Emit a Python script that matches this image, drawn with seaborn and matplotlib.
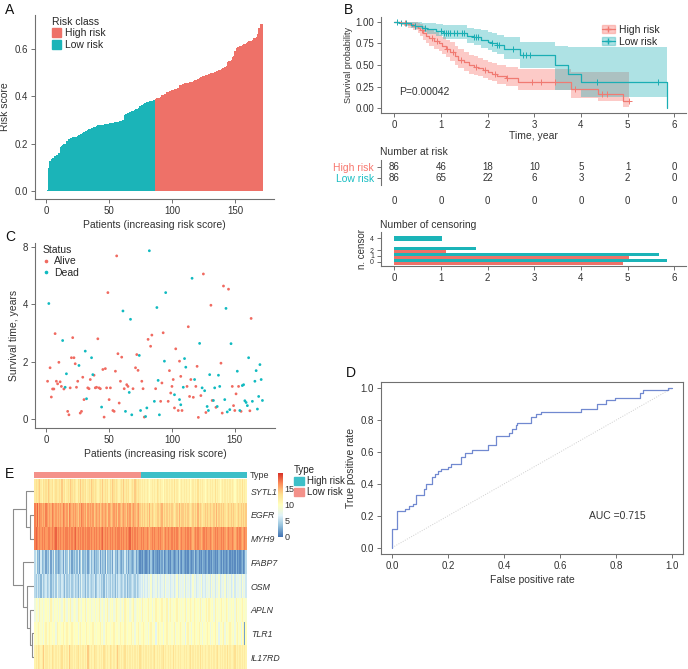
import numpy as np
import pandas as pd
import matplotlib
matplotlib.use("Agg")
import matplotlib.pyplot as plt
import seaborn as sns
from matplotlib.colors import LinearSegmentedColormap, ListedColormap
from matplotlib.patches import Patch
from matplotlib.lines import Line2D

# ── Panel A : risk score per patient (sorted) ─────────────────
risk_low = [0.005, 0.097, 0.125, 0.137, 0.138, 0.14, 0.147, 0.15, 0.154, 0.16,
            0.186, 0.19, 0.196, 0.197, 0.2, 0.21, 0.212, 0.221, 0.222, 0.224,
            0.227, 0.228, 0.229, 0.23, 0.232, 0.238, 0.24, 0.242, 0.245, 0.248,
            0.252, 0.255, 0.258, 0.26, 0.263, 0.265, 0.268, 0.27, 0.272, 0.274,
            0.277, 0.278, 0.279, 0.28, 0.281, 0.282, 0.283, 0.284, 0.285, 0.286,
            0.287, 0.288, 0.289, 0.29, 0.291, 0.292, 0.293, 0.294, 0.295, 0.297,
            0.3, 0.323, 0.325, 0.327, 0.33, 0.332, 0.334, 0.336, 0.34, 0.344,
            0.346, 0.348, 0.352, 0.358, 0.36, 0.364, 0.368, 0.37, 0.372, 0.375,
            0.377, 0.379, 0.38, 0.382, 0.384, 0.386]
risk_high = [0.39, 0.392, 0.393, 0.394, 0.396, 0.405, 0.407, 0.408, 0.41, 0.418,
             0.42, 0.421, 0.422, 0.426, 0.428, 0.43, 0.432, 0.434, 0.436, 0.448,
             0.45, 0.452, 0.454, 0.455, 0.456, 0.457, 0.458, 0.459, 0.46, 0.462,
             0.465, 0.468, 0.471, 0.473, 0.475, 0.477, 0.48, 0.484, 0.486, 0.488,
             0.49, 0.492, 0.494, 0.496, 0.497, 0.499, 0.5, 0.504, 0.506, 0.508,
             0.51, 0.512, 0.516, 0.52, 0.522, 0.525, 0.53, 0.546, 0.548, 0.55,
             0.552, 0.566, 0.57, 0.59, 0.605, 0.607, 0.609, 0.611, 0.614, 0.618,
             0.62, 0.622, 0.625, 0.628, 0.632, 0.634, 0.636, 0.64, 0.646, 0.648,
             0.65, 0.665, 0.69, 0.704, 0.706, 0.706]

# ── Panel B : Kaplan-Meier steps + 95% CI ─────────────────────
hi_t = [0, 0.15, 0.3, 0.4, 0.5, 0.55, 0.62, 0.68, 0.75, 0.85, 0.95, 1.02, 1.1, 1.2, 1.3,
        1.37, 1.5, 1.6, 1.7, 1.8, 1.9, 2.0, 2.1, 2.2, 2.4, 2.65, 3.78, 4.37, 4.89, 5.03]
hi_s = [1.0, 0.985, 0.97, 0.95, 0.93, 0.9, 0.87, 0.84, 0.81, 0.78, 0.75, 0.72, 0.68, 0.65, 0.6,
        0.56, 0.53, 0.5, 0.48, 0.46, 0.44, 0.42, 0.40, 0.37, 0.35, 0.30, 0.22, 0.165, 0.088, 0.088]
hi_up = [1.0, 1.0, 1.0, 0.995, 0.99, 0.97, 0.95, 0.93, 0.9, 0.88, 0.85, 0.82, 0.79, 0.76, 0.72,
         0.68, 0.65, 0.62, 0.60, 0.58, 0.56, 0.54, 0.52, 0.50, 0.48, 0.45, 0.42, 0.42, 0.42, 0.42]
hi_lo = [1.0, 0.96, 0.93, 0.9, 0.87, 0.83, 0.79, 0.75, 0.72, 0.69, 0.66, 0.63, 0.59, 0.55, 0.5,
         0.46, 0.43, 0.40, 0.39, 0.37, 0.35, 0.33, 0.31, 0.28, 0.26, 0.21, 0.12, 0.08, 0.01, 0.01]
hi_cens = [0.22, 0.45, 0.6, 0.8, 0.92, 1.12, 1.25, 1.42, 1.75, 1.95, 2.15, 2.42,
           2.95, 3.15, 3.45, 3.88, 4.45, 4.55, 5.02]

lo_t = [0, 0.1, 0.2, 0.35, 0.45, 0.6, 0.7, 0.9, 1.05, 1.55, 1.7, 1.85, 2.0, 2.1, 2.2,
        2.35, 2.7, 3.45, 3.73, 3.99, 5.85]
lo_s = [1.0, 0.99, 0.98, 0.965, 0.95, 0.93, 0.915, 0.895, 0.875, 0.835, 0.82, 0.79, 0.77, 0.75, 0.73,
        0.68, 0.615, 0.50, 0.40, 0.305, 0.0]
lo_up = [1.0, 1.0, 1.0, 1.0, 1.0, 0.99, 0.98, 0.97, 0.96, 0.93, 0.92, 0.9, 0.88, 0.87, 0.85,
         0.82, 0.77, 0.72, 0.71, 0.71, 0.71]
lo_lo = [1.0, 0.97, 0.95, 0.93, 0.91, 0.88, 0.86, 0.83, 0.8, 0.75, 0.73, 0.7, 0.67, 0.65, 0.63,
         0.57, 0.46, 0.21, 0.21, 0.135, 0.135]
lo_cens = [0.05, 0.15, 0.25, 0.45, 0.65, 1.0, 1.06, 1.1, 1.15, 1.2, 1.28, 1.35, 1.45, 1.5,
           1.7, 1.75, 1.8, 2.1, 2.2, 2.25, 2.55, 2.75, 2.82, 2.9, 4.35, 5.65]

risk_times = [0, 1, 2, 3, 4, 5, 6]
at_risk_high = [86, 46, 18, 10, 5, 1, 0]
at_risk_low = [86, 65, 22, 6, 3, 2, 0]
zero_row = [0, 0, 0, 0, 0, 0, 0]

cens_n = [4, 2, 2, 1, 1, 0, 0]
cens_grp = ["Low risk", "Low risk", "High risk", "Low risk", "High risk", "Low risk", "High risk"]
cens_len = [1.02, 1.74, 1.11, 5.67, 5.03, 5.85, 4.89]

# ── Panel C : survival time / status ──────────────────────────
alive_x = [1, 3, 4, 5, 6, 7, 8, 9, 10, 11, 12, 14, 17, 18, 19, 20, 21, 22, 23, 24,
           25, 27, 28, 29, 30, 33, 34, 35, 38, 39, 40, 41, 42, 43, 45, 46, 47, 48, 49, 50,
           51, 53, 54, 55, 56, 57, 58, 59, 60, 62, 64, 65, 69, 71, 72, 73, 76, 77, 78, 81,
           83, 84, 87, 91, 92, 93, 97, 98, 99, 100, 101, 102, 103, 105, 106, 107, 108, 112, 113, 114,
           115, 117, 119, 120, 121, 123, 125, 127, 131, 132, 135, 139, 140, 141, 145, 148, 149, 150, 151, 153,
           155, 162, 163]
alive_t = [1.32, 1.79, 0.77, 1.05, 1.05, 2.98, 1.32, 1.23, 1.98, 1.30, 1.14, 1.05, 0.27, 0.15, 1.09, 2.14, 2.84, 2.14, 1.93, 1.11,
           1.32, 0.21, 0.27, 1.46, 0.68, 1.09, 1.06, 1.38, 1.53, 1.09, 1.11, 2.80, 1.09, 1.06, 1.73, 0.07, 1.76, 1.09, 4.41, 0.68,
           1.09, 0.30, 0.27, 1.67, 5.69, 2.28, 0.56, 1.32, 2.16, 1.06, 1.20, 1.14, 1.06, 1.79, 2.25, 1.70, 1.32, 1.06, 0.07, 2.78,
           2.54, 2.93, 1.06, 0.62, 1.26, 3.01, 0.62, 1.69, 0.91, 1.14, 1.38, 0.39, 2.45, 0.30, 2.02, 1.49, 0.30, 1.14, 3.22, 0.79,
           1.38, 0.76, 1.14, 1.84, 0.06, 0.82, 5.06, 0.23, 3.97, 0.65, 0.41, 1.95, 0.21, 4.64, 4.53, 1.14, 0.47, 0.30, 0.88, 1.14,
           0.27, 0.29, 3.51]
dead_x = [2, 13, 15, 16, 26, 31, 32, 36, 37, 44, 61, 63, 66, 67, 68, 74, 75, 79, 80, 82,
          86, 88, 89, 90, 94, 95, 102, 106, 107, 109, 110, 111, 116, 118, 122, 124, 126, 128, 129, 130,
          133, 134, 136, 137, 138, 142, 143, 144, 146, 147, 152, 154, 156, 157, 158, 159, 160, 161, 164, 166,
          167, 168, 169, 170, 171, 172]
dead_t = [4.03, 2.74, 1.11, 1.58, 1.87, 2.37, 0.71, 2.14, 1.55, 0.42, 3.77, 0.27, 0.93, 3.48, 0.15, 2.22, 0.30, 0.09, 0.39, 5.87,
          0.62, 3.89, 1.35, 0.15, 2.02, 4.41, 0.85, 0.68, 0.50, 1.11, 2.11, 1.81, 4.91, 1.38, 2.64, 1.09, 0.99, 0.44, 0.30, 1.55,
          0.65, 1.09, 0.44, 1.53, 1.14, 0.68, 3.86, 0.25, 0.33, 2.63, 1.67, 0.30, 1.17, 1.20, 0.64, 0.58, 0.47, 2.14, 0.62, 1.32,
          1.69, 0.35, 0.79, 1.90, 1.38, 0.65]
time_ticks = [0, 2, 4, 6]
time_tick_labels = ["0", "2", "4", "8"]

# ── Panel D : ROC curve corners ───────────────────────────────
fpr = [0, 0, 0.018, 0.047, 0.059, 0.075, 0.084, 0.114, 0.122, 0.144, 0.152, 0.164, 0.176,
       0.199, 0.211, 0.247, 0.259, 0.286, 0.344, 0.371, 0.419, 0.428, 0.442, 0.448, 0.496,
       0.514, 0.531, 0.674, 0.733, 0.763, 0.798, 0.887, 0.896, 0.988, 1.0]
tpr = [0, 0.12, 0.228, 0.245, 0.26, 0.273, 0.329, 0.371, 0.40, 0.444, 0.465, 0.48, 0.493,
       0.507, 0.522, 0.57, 0.595, 0.616, 0.644, 0.70, 0.717, 0.748, 0.769, 0.78, 0.822,
       0.839, 0.853, 0.868, 0.899, 0.927, 0.941, 0.969, 0.99, 1.0, 1.0]
auc_text = "AUC =0.715"

# ── Panel E : expression heatmap (one char per patient, 0-j = 0-19) ──
genes = ["SYTL1", "EGFR", "MYH9", "FABP7", "OSM", "APLN", "TLR1", "IL17RD"]
expr_rows = {
    "SYTL1": "cdcdecbdcd cedcdbcdcc dcecdbcdce dcdcbdcecd cdbcdcedcd cbcdcecdcd bdcedcdcbc dcecdcdbcd "
             "cedcdcbcbc bcbabcbcbd cbcbacbcbc bcbdbcbabc bcbcbcabcb cbdbcbcbab cbcbcbdbcb abcbcbcbcb "
             "cbabcbcbdb cb",
    "EGFR": "hgifhgfgfh gfgfhgfgfg fgfhgfgehg fgfgfegfhg fgegfgfgef gfgefgfgfe gfefgfgegf efgfegfgef "
            "gfefgedede dedfdedcde edefdedede dedcdedfde edededcded edfdedcded ededdedfde dededcdede "
            "dedcdedede de",
    "MYH9": "hihghghghg ghhghghigh ghghghhghg hghighghgh ghghhghghg hghghighgh ghghghghhg hghghghigh "
            "ghghgghghg ghgfghghgg hghgfghghg ghghghgfgh gghghghgfg hghggfghgh gghgfghghg ghghgfghgg "
            "hgfghghgfg hg",
    "FABP7": "5734263452 4362537342 3452634735 2435362473 4352463524 3462534273 4352634253 2436352432 "
             "3524312132 1231421321 2132412312 1321231421 3212132124 1231213212 3121321213 2131212312 "
             "1213121231 25",
    "OSM": "5464536456 4563546475 5465364546 4564536475 5364654563 4656453646 5464536465 4564635456 "
           "5464567686 7687967786 8767869778 6786796878 7968786797 8678796768 7869786879 6787968786 "
           "7968778697 86",
    "APLN": "8a98b9a89a 9a8b98a9a8 a98ab98a9b 89a98ba98a 9b8a9a89a8 a9b89a8a9b 8a9a89ba98 9a8ba9a89a "
            "b89a9a8b9a 9ab9a8a9ba a9ab9a9b8a b9a9ab9a9a 9ab8a9ba9b a9a9b8a9ab 9ba9a8b9a9 ab9a9ba89a "
            "9a8b9a9ab9 a9",
    "TLR1": "a9aba9a8ab 9aba9aa8ba a9ab9aba9a ba9aa8ab9a a9ba9aab9a 9aab9a8aba a9aab9aa9b aa9ba9aab9 "
            "a8aab9aaba 9a8ab9aa7a ba9a8aab9a a9ab8a9aba 9a7ab9a8ab a9ab9a8a9a ba8a9ab9a7 a9ab8a9aba "
            "9a8ab9a7ab 2a",
    "IL17RD": "bcbdcbcebc cbcbdcbcbc bcdbcbcbec cbcbcdbcbc bcbecbcbdc cbcbcbdcbc bdcbcbcecb cbcdbcbcbc "
              "bcbcbdcbcb cbcbcbcdbc bcbcdbcbcb cbdbcbcbcb bcbcbcdbcb cbcbdbcbcb bcbcbcbcdb cbcbcbdbcb "
              "bcdbcbcbcb cb",
}
sample_type = ["Low risk"] * 86 + ["High risk"] * 86
# row dendrogram merges: (node, node, height); ints refer to earlier merges
dendro_merges = [("EGFR", "MYH9", 4.0), ("TLR1", "IL17RD", 2.0), ("APLN", 1, 4.0),
                 ("OSM", 2, 7.5), ("SYTL1", 0, 8.0), ("FABP7", 3, 11.0), (4, 5, 21.5)]

# ── Style ─────────────────────────────────────────────────────
sns.set_theme(style="white")
plt.rcParams["font.family"] = ["Liberation Sans", "DejaVu Sans"]
AXC, TXC = "#707070", "#333333"
RED, TEAL = "#EE7168", "#1BB4B8"
KM_RED, KM_TEAL = "#F07A72", "#1AAEB4"
W, H = 688, 669
fig = plt.figure(figsize=(W / 100, H / 100), dpi=100)


def add_ax(l, t, r, b):
    return fig.add_axes([l / W, 1 - b / H, (r - l) / W, (b - t) / H])


def style(ax, box=False):
    for s in ["top", "right"]:
        ax.spines[s].set_visible(box)
    for s in ax.spines.values():
        s.set_color(AXC)
        s.set_linewidth(0.8)
    ax.tick_params(axis="both", length=3, width=0.7, color=AXC, labelsize=7,
                   labelcolor=TXC, pad=2, bottom=True, left=True)


def letter(x, y, s):
    fig.text(x / W, 1 - y / H, s, fontsize=10, va="top", ha="left", color="#111111")


# ── A ─────────────────────────────────────────────────────────
df_a = pd.DataFrame({"patient": np.arange(1, 173), "score": risk_low + risk_high,
                     "Risk class": ["Low risk"] * 86 + ["High risk"] * 86})
ax_a = add_ax(35, 15, 274, 199)
sns.barplot(data=df_a, x="patient", y="score", hue="Risk class",
            hue_order=["High risk", "Low risk"], palette=[RED, TEAL], native_scale=True,
            dodge=False, width=1.0, errorbar=None, linewidth=0, saturation=1, ax=ax_a)
ax_a.set_xlim(-9, 181)
ax_a.set_ylim(-0.034, 0.744)
ax_a.set_xticks([0, 50, 100, 150])
ax_a.set_yticks([0, 0.2, 0.4, 0.6])
ax_a.set_yticklabels(["0.0", "0.2", "0.4", "0.6"])
ax_a.set_xlabel("Patients (increasing risk score)", fontsize=7.5, color=TXC, labelpad=3)
ax_a.set_ylabel("Risk score", fontsize=7.5, color=TXC, labelpad=3)
style(ax_a)
leg = ax_a.legend(handles=[Patch(color=RED, label="High risk"), Patch(color=TEAL, label="Low risk")],
                  title="Risk class", loc="upper left", bbox_to_anchor=(0.07, 0.99), frameon=False,
                  fontsize=7.5, title_fontsize=7.5, handlelength=0.9, handleheight=0.9,
                  handletextpad=0.4, labelspacing=0.15, borderaxespad=0, borderpad=0)
leg._legend_box.align = "left"
letter(5, 3, "A")

# ── B : KM ────────────────────────────────────────────────────
ax_km = add_ax(381, 17, 686, 113)
ax_km.fill_between(hi_t, hi_lo, hi_up, step="post", color="#F8766D", alpha=0.38, linewidth=0)
ax_km.fill_between(lo_t, lo_lo, lo_up, step="post", color="#2BB3B8", alpha=0.38, linewidth=0)
sns.lineplot(x=hi_t, y=hi_s, drawstyle="steps-post", color=KM_RED, lw=0.9,
             estimator=None, sort=False, ax=ax_km)
sns.lineplot(x=lo_t, y=lo_s, drawstyle="steps-post", color=KM_TEAL, lw=0.9,
             estimator=None, sort=False, ax=ax_km)


def km_at(tt, ss, c):
    idx = np.searchsorted(tt, c, side="right") - 1
    return np.asarray(ss)[idx]


ax_km.scatter(hi_cens, km_at(hi_t, hi_s, hi_cens), marker="+", s=14, color=KM_RED, linewidths=0.7)
ax_km.scatter(lo_cens, km_at(lo_t, lo_s, lo_cens), marker="+", s=14, color=KM_TEAL, linewidths=0.7)
ax_km.set_xlim(-0.285, 6.25)
ax_km.set_ylim(-0.054, 1.054)
ax_km.set_xticks(risk_times)
ax_km.set_yticks([0, 0.25, 0.5, 0.75, 1.0])
ax_km.set_yticklabels(["0.00", "0.25", "0.50", "0.75", "1.00"])
ax_km.set_xlabel("Time, year", fontsize=7.5, color=TXC, labelpad=1)
ax_km.set_ylabel("Survival probability", fontsize=6.5, color=TXC, labelpad=2)
style(ax_km)
ax_km.text(0.1, 0.19, "P=0.00042", fontsize=7.5, color=TXC, va="center")
km_handles = [(Patch(color="#F8766D", alpha=0.38), Line2D([], [], color=KM_RED, marker="+", lw=0.9, ms=4)),
              (Patch(color="#2BB3B8", alpha=0.38), Line2D([], [], color=KM_TEAL, marker="+", lw=0.9, ms=4))]
ax_km.legend(km_handles, ["High risk", "Low risk"], loc="upper right", bbox_to_anchor=(0.93, 0.97),
             frameon=False, fontsize=7.5, handlelength=1.2, handleheight=0.8,
             handletextpad=0.4, labelspacing=0.15, borderpad=0)

# risk table
ax_tab = add_ax(381, 160, 686, 185)
ax_tab.set_xlim(ax_km.get_xlim())
ax_tab.set_ylim(0, 1)
for t, nh, nl in zip(risk_times, at_risk_high, at_risk_low):
    ax_tab.text(t, 0.72, str(nh), ha="center", va="center", fontsize=7, color=TXC)
    ax_tab.text(t, 0.28, str(nl), ha="center", va="center", fontsize=7, color=TXC)
style(ax_tab)
ax_tab.spines["bottom"].set_visible(False)
ax_tab.set_yticks([0.72, 0.28])
ax_tab.set_yticklabels(["High risk", "Low risk"], fontsize=7.5)
ax_tab.get_yticklabels()[0].set_color("#F8766D")
ax_tab.get_yticklabels()[1].set_color("#19BDC2")
ax_tab.set_xticks(risk_times)
ax_tab.set_xticklabels([str(z) for z in zero_row])
ax_tab.tick_params(axis="x", length=0, pad=8)
fig.text(380 / W, 1 - 152 / H, "Number at risk", fontsize=7.5, color=TXC, va="center")

# censoring
ax_cens = add_ax(381, 232, 686, 266)
counts = pd.Series(cens_n).value_counts()
for n, g, ln in zip(cens_n, cens_grp, cens_len):
    if counts[n] == 1:
        yc, hgt = n - 0.05, 0.9
    else:
        yc, hgt = (n + 0.2, 0.5) if g == "Low risk" else (n - 0.3, 0.5)
    ax_cens.barh(yc, ln, height=hgt, color=TEAL if g == "Low risk" else RED, linewidth=0)
ax_cens.set_xlim(ax_km.get_xlim())
ax_cens.set_ylim(-0.7, 5.05)
ax_cens.set_yticks([0, 1, 2, 4])
ax_cens.set_xticks(risk_times)
ax_cens.set_ylabel("n. censor", fontsize=7, color=TXC, labelpad=2)
style(ax_cens)
ax_cens.tick_params(axis="y", labelsize=5)
fig.text(380 / W, 1 - 225 / H, "Number of censoring", fontsize=7.5, color=TXC, va="center")
letter(344, 3, "B")

# ── C ─────────────────────────────────────────────────────────
df_c = pd.DataFrame({"patient": alive_x + dead_x, "time": alive_t + dead_t,
                     "Status": ["Alive"] * len(alive_x) + ["Dead"] * len(dead_x)})
ax_c = add_ax(35, 243, 275, 428)
sns.scatterplot(data=df_c, x="patient", y="time", hue="Status", hue_order=["Alive", "Dead"],
                palette=["#F06A60", "#10BAC0"], s=4, linewidth=0, legend=False, ax=ax_c)
ax_c.set_xlim(-9, 182)
ax_c.set_ylim(-0.31, 6.14)
ax_c.set_xticks([0, 50, 100, 150])
ax_c.set_yticks(time_ticks)
ax_c.set_yticklabels(time_tick_labels)
ax_c.set_xlabel("Patients (increasing risk score)", fontsize=7.5, color=TXC, labelpad=3)
ax_c.set_ylabel("Survival time, years", fontsize=7.5, color=TXC, labelpad=3)
style(ax_c)
st_handles = [Line2D([], [], ls="", marker="o", ms=1.6, color="#F06A60", label="Alive"),
              Line2D([], [], ls="", marker="o", ms=1.6, color="#10BAC0", label="Dead")]
leg = ax_c.legend(handles=st_handles, title="Status", loc="upper left", bbox_to_anchor=(0.03, 0.99),
                  frameon=False, fontsize=7.5, title_fontsize=7.5, handlelength=0.8,
                  handletextpad=0.3, labelspacing=0.15, borderpad=0, borderaxespad=0)
leg._legend_box.align = "left"
letter(5, 230, "C")

# ── D ─────────────────────────────────────────────────────────
ax_d = add_ax(381, 382, 683, 554)
ax_d.plot([0, 1], [0, 1], ls=(0, (1, 1.5)), color="#CFCFCF", lw=0.7)
sns.lineplot(x=fpr, y=tpr, drawstyle="steps-post", color="#7189D0", lw=0.9,
             estimator=None, sort=False, ax=ax_d)
ax_d.set_xlim(-0.04, 1.04)
ax_d.set_ylim(-0.04, 1.04)
ticks = [0, 0.2, 0.4, 0.6, 0.8, 1.0]
ax_d.set_xticks(ticks)
ax_d.set_yticks(ticks)
ax_d.set_xticklabels([f"{v:.1f}" for v in ticks])
ax_d.set_yticklabels([f"{v:.1f}" for v in ticks])
ax_d.set_xlabel("False positive rate", fontsize=7.5, color=TXC, labelpad=3)
ax_d.set_ylabel("True positive rate", fontsize=7.5, color=TXC, labelpad=3)
style(ax_d, box=True)
ax_d.text(0.705, 0.2, auc_text, fontsize=7.5, color=TXC, va="center")
letter(346, 366, "D")

# ── E ─────────────────────────────────────────────────────────
rows = []
for g in genes:
    s = expr_rows[g].replace(" ", "")
    assert len(s) == 172, (g, len(s))
    rows.append([int(c, 36) for c in s])
expr = pd.DataFrame(rows, index=genes)
hm_cmap = LinearSegmentedColormap.from_list(
    "rdylbu", ["#4575B4", "#91BFDB", "#E0F3F8", "#FFFFBF", "#FEE090", "#FC8D59", "#D73027"])

ax_e = add_ax(34.3, 479.3, 246.7, 669)
cax = add_ax(277.7, 473, 282.7, 536.7)
sns.heatmap(expr, cmap=hm_cmap, vmin=0, vmax=19.8, ax=ax_e, cbar_ax=cax,
            xticklabels=False, yticklabels=True)
ax_e.yaxis.tick_right()
ax_e.tick_params(axis="y", length=0, pad=3, labelsize=6.3, labelcolor=TXC)
for lab in ax_e.get_yticklabels():
    lab.set_rotation(0)
    lab.set_style("italic")
ax_e.set_ylabel("")
cbar = ax_e.collections[0].colorbar
cbar.outline.set_visible(False)
cbar.set_ticks([0, 5, 10, 15])
cax.tick_params(length=0, labelsize=6.5, labelcolor=TXC, pad=1.5)

type_colors = {"Low risk": "#F4918A", "High risk": "#3DBFC8"}
ax_ann = add_ax(34.3, 472.3, 246.7, 477.7)
ann = pd.DataFrame([[0 if t == "Low risk" else 1 for t in sample_type]])
sns.heatmap(ann, cmap=ListedColormap([type_colors["Low risk"], type_colors["High risk"]]),
            vmin=0, vmax=1, cbar=False, xticklabels=False, yticklabels=False, ax=ax_ann)
fig.text(250 / W, 1 - 475 / H, "Type", fontsize=6.5, color=TXC, va="center")

# dendrogram
ax_dn = add_ax(12.0, 479.3, 34.3, 669)
pos = {g: i + 0.5 for i, g in enumerate(genes)}
hgt = {g: 0.0 for g in genes}
for k, (a, b, h) in enumerate(dendro_merges):
    ya, yb = pos[a], pos[b]
    ax_dn.plot([hgt[a], h, h, hgt[b]], [ya, ya, yb, yb], color="#8C8C8C", lw=0.8)
    pos[k] = (ya + yb) / 2
    hgt[k] = h
ax_dn.set_xlim(22.3, 0)
ax_dn.set_ylim(8, 0)
ax_dn.axis("off")

leg = fig.legend(handles=[Patch(color=type_colors["High risk"], label="High risk"),
                          Patch(color=type_colors["Low risk"], label="Low risk")],
                 title="Type", loc="upper left", bbox_to_anchor=(294 / W, 1 - 465 / H),
                 frameon=False, fontsize=7, title_fontsize=7, handlelength=1.0,
                 handleheight=0.9, handletextpad=0.3, labelspacing=0.1, borderpad=0,
                 borderaxespad=0)
leg._legend_box.align = "left"
letter(5, 467, "E")

fig.savefig("out.png", dpi=100)
plt.close(fig)
